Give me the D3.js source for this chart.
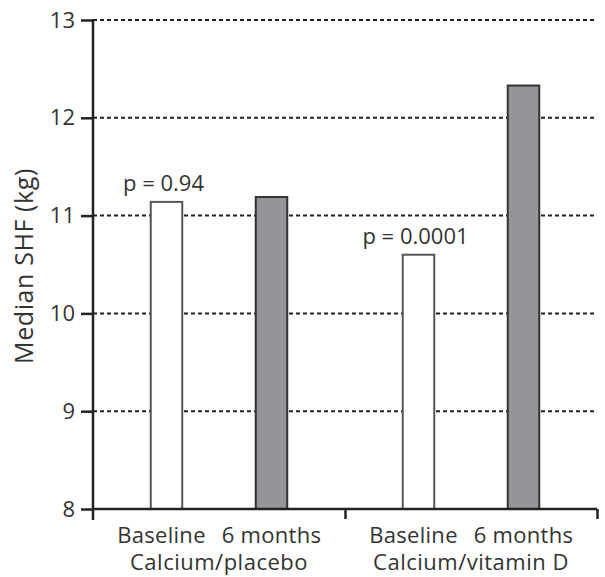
<!DOCTYPE html>
<html>
<head>
<meta charset="utf-8">
<script src="https://cdn.jsdelivr.net/npm/d3@7"></script>
<style>
  body { margin: 0; background: #fff; }
  text { font-family: "Open Sans", "Noto Sans", sans-serif; fill: #333; }
</style>
</head>
<body>
<div id="chart"></div>
<script>
'use strict';

var groups = ['Calcium/placebo', 'Calcium/vitamin D'];
var timepoints = ['Baseline', '6 months'];
var values = [[11.14, 11.19], [10.60, 12.33]];
var pLabels = ['p = 0.94', 'p = 0.0001'];
var yTicks = [8, 9, 10, 11, 12, 13];

var width = 605;
var height = 577;
var margin = {top: 20, left: 93, bottom: 68, right: 8};
var innerW = width - margin.left - margin.right;
var innerH = height - margin.top - margin.bottom;

var svg = d3.select('#chart').append('svg')
    .attr('width', width)
    .attr('height', height);

var g = svg.append('g')
    .attr('transform', 'translate(' + margin.left + ',' + margin.top + ')');

var y = d3.scaleLinear().domain([8, 13]).range([innerH, 0]);
var x0 = d3.scaleBand().domain(groups).range([0, innerW]);
var x1 = d3.scaleBand().domain(timepoints).range([0, x0.bandwidth()])
    .paddingInner(0.7).paddingOuter(0.55);

// dashed grid
g.selectAll('line.grid')
    .data(yTicks.slice(1))
    .enter()
    .append('line')
        .attr('class', 'grid')
        .attr('x1', 0)
        .attr('x2', innerW)
        .attr('y1', function(d) { return y(d); })
        .attr('y2', function(d) { return y(d); })
        .attr('stroke', '#222')
        .attr('stroke-width', 2)
        .attr('stroke-dasharray', '4,3');

var data = [];
groups.forEach(function(grp, i) {
    timepoints.forEach(function(tp, j) {
        data.push({group: grp, time: tp, val: values[i][j], idx: j});
    });
});

g.selectAll('rect.bar')
    .data(data)
    .enter()
    .append('rect')
        .attr('class', 'bar')
        .attr('x', function(d) { return x0(d.group) + x1(d.time); })
        .attr('y', function(d) { return y(d.val); })
        .attr('width', x1.bandwidth())
        .attr('height', function(d) { return y(8) - y(d.val); })
        .attr('fill', function(d) { return d.idx === 0 ? '#fff' : '#939598'; })
        .attr('stroke', function(d) { return d.idx === 0 ? '#555' : '#333'; })
        .attr('stroke-width', 2);

// y axis
var yAxis = g.append('g')
    .call(d3.axisLeft(y).tickValues(yTicks).tickSize(12).tickPadding(6).tickFormat(d3.format('d')));
yAxis.select('.domain').remove();
yAxis.selectAll('.tick line').attr('stroke', '#222').attr('stroke-width', 2.5);
yAxis.selectAll('.tick text')
    .attr('font-size', 22)
    .style('fill', '#333');

g.append('line')
    .attr('x1', 0).attr('x2', 0)
    .attr('y1', -1).attr('y2', innerH + 11)
    .attr('stroke', '#222').attr('stroke-width', 2.5);

// x axis
var xLin = d3.scaleLinear().domain([0, 2]).range([0, innerW]);
var xAxis = g.append('g')
    .attr('transform', 'translate(0,' + innerH + ')')
    .call(d3.axisBottom(xLin).tickValues([1, 2]).tickSize(10).tickFormat(''));
xAxis.select('.domain').attr('stroke', '#222').attr('stroke-width', 2.5)
    .attr('d', 'M0,0H' + innerW);
xAxis.selectAll('.tick line').attr('stroke', '#222').attr('stroke-width', 2.5);

// category labels
g.selectAll('text.cat')
    .data(data)
    .enter()
    .append('text')
        .attr('class', 'cat')
        .attr('x', function(d) { return x0(d.group) + x1(d.time) + x1.bandwidth() / 2 - (d.idx === 0 ? 5 : 0); })
        .attr('y', innerH + 34)
        .attr('text-anchor', 'middle')
        .attr('font-size', 22)
        .attr('letter-spacing', 0.3)
        .text(function(d) { return d.time; });

g.selectAll('text.grp')
    .data(groups)
    .enter()
    .append('text')
        .attr('class', 'grp')
        .attr('x', function(d) { return x0(d) + x0.bandwidth() / 2; })
        .attr('y', innerH + 61)
        .attr('text-anchor', 'middle')
        .attr('font-size', 22)
        .attr('letter-spacing', 0.5)
        .text(function(d) { return d; });

// p values above baseline bars
g.selectAll('text.pval')
    .data(groups)
    .enter()
    .append('text')
        .attr('class', 'pval')
        .attr('x', function(d) { return x0(d) + x1('Baseline') + x1.bandwidth() / 2 - 3; })
        .attr('y', function(d, i) { return y(values[i][0]) - 11; })
        .attr('text-anchor', 'middle')
        .attr('font-size', 22)
        .text(function(d, i) { return pLabels[i]; });

// y label
svg.append('text')
    .attr('transform', 'translate(33,266) rotate(-90)')
    .attr('text-anchor', 'middle')
    .attr('font-size', 25)
    .attr('letter-spacing', 0.6)
    .text('Median SHF (kg)');
</script>
</body>
</html>
